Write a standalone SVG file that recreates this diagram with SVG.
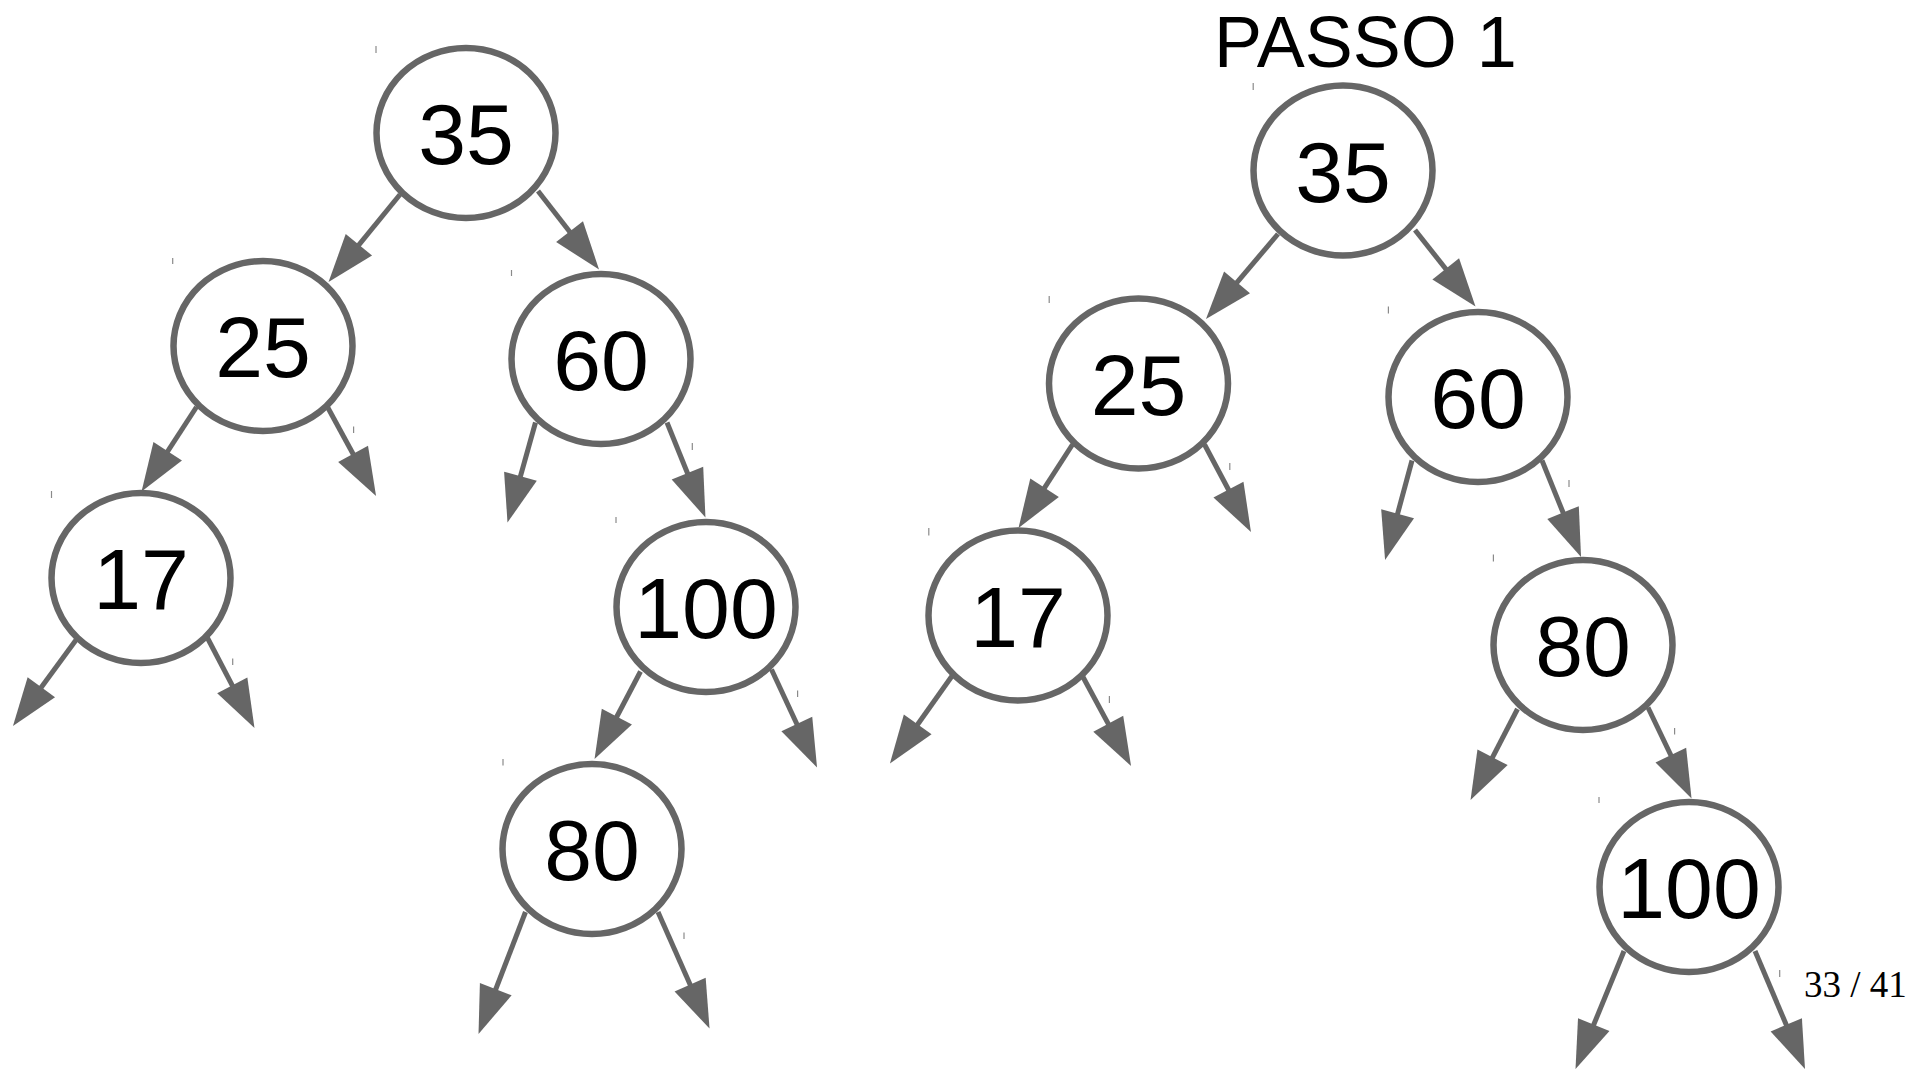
<svg xmlns="http://www.w3.org/2000/svg" width="1929" height="1069" viewBox="0 0 1929 1069">
<style>
.node ellipse{fill:#ffffff;stroke:#666666;stroke-width:6.5}
.node text{font-family:"Liberation Sans",Arial,sans-serif;font-size:86px;fill:#000000;text-anchor:middle}
.edge{stroke:#666666;stroke-width:5;fill:none;marker-end:url(#ah)}
.tick{stroke:#8a8a8a;stroke-width:1.2}
.title{font-family:"Liberation Sans",Arial,sans-serif;font-size:72px;fill:#000000;text-anchor:middle}
.page{font-family:"Liberation Serif","Times New Roman",serif;font-size:37px;fill:#000000}
</style>
<defs>
<marker id="ah" markerUnits="userSpaceOnUse" markerWidth="48" markerHeight="34" viewBox="0 0 48 34" refX="18" refY="17" orient="auto" overflow="visible">
<path d="M0,0 L48,17 L0,34 Z" fill="#666666"/>
</marker>
</defs>
<rect width="1929" height="1069" fill="#ffffff"/>
<text class="title" x="1365.5" y="67">PASSO 1</text>
<g id="L35" class="node"><ellipse cx="466" cy="133" rx="89.5" ry="85"/><text x="466" y="164">35</text></g>
<g id="L25" class="node"><ellipse cx="263" cy="346" rx="89.5" ry="85"/><text x="263" y="377">25</text></g>
<g id="L60" class="node"><ellipse cx="601" cy="359" rx="89.5" ry="85"/><text x="601" y="390">60</text></g>
<g id="L17" class="node"><ellipse cx="141" cy="578" rx="89.5" ry="85"/><text x="141" y="609">17</text></g>
<g id="L100" class="node"><ellipse cx="706" cy="607" rx="89.5" ry="85"/><text x="706" y="638">100</text></g>
<g id="L80" class="node"><ellipse cx="592" cy="849" rx="89.5" ry="85"/><text x="592" y="880">80</text></g>
<g id="R35" class="node"><ellipse cx="1343" cy="170.5" rx="89.5" ry="85"/><text x="1343" y="201.5">35</text></g>
<g id="R25" class="node"><ellipse cx="1138.5" cy="383.5" rx="89.5" ry="85"/><text x="1138.5" y="414.5">25</text></g>
<g id="R60" class="node"><ellipse cx="1478" cy="397" rx="89.5" ry="85"/><text x="1478" y="428">60</text></g>
<g id="R17" class="node"><ellipse cx="1018" cy="615.5" rx="89.5" ry="85"/><text x="1018" y="646.5">17</text></g>
<g id="R80" class="node"><ellipse cx="1583" cy="645" rx="89.5" ry="85"/><text x="1583" y="676">80</text></g>
<g id="R100" class="node"><ellipse cx="1689" cy="887" rx="89.5" ry="85"/><text x="1689" y="918">100</text></g>
<g id="connectors">
<path class="edge" d="M400,194.5 L347.5,258.8"/>
<path class="edge" d="M538,191 L580.6,245.8"/>
<path class="edge" d="M196.5,407 L157.9,466.4"/>
<path class="edge" d="M327.5,407 L361.7,469.7"/>
<path class="edge" d="M535.5,422.5 L515.6,493.6"/>
<path class="edge" d="M667,422.5 L694.2,489.7"/>
<path class="edge" d="M76,640 L30.7,701.8"/>
<path class="edge" d="M207.5,638 L240.6,701.4"/>
<path class="edge" d="M640.5,671.5 L608.5,732.5"/>
<path class="edge" d="M771.5,669.5 L804.4,740.3"/>
<path class="edge" d="M525.5,912 L489.3,1006"/>
<path class="edge" d="M658,912 L697.4,1001.1"/>
<path class="edge" d="M1278,234 L1225.4,296.1"/>
<path class="edge" d="M1415,230 L1456.9,283"/>
<path class="edge" d="M1072.5,444.5 L1034.8,502.8"/>
<path class="edge" d="M1204.5,444.5 L1236.9,505.5"/>
<path class="edge" d="M1412,460.5 L1392.9,531.1"/>
<path class="edge" d="M1542,460.5 L1569.8,529.2"/>
<path class="edge" d="M952,676 L907.3,739"/>
<path class="edge" d="M1083,677 L1116.8,739.6"/>
<path class="edge" d="M1517.5,709 L1484.3,773.3"/>
<path class="edge" d="M1648,707.5 L1678.6,771.4"/>
<path class="edge" d="M1624,951 L1586.9,1041.3"/>
<path class="edge" d="M1755,951 L1793.3,1041.4"/>
</g>
<g id="marks">
<line class="tick" x1="376" y1="46" x2="376" y2="53"/>
<line class="tick" x1="172.7" y1="258" x2="172.7" y2="264"/>
<line class="tick" x1="511.5" y1="270" x2="511.5" y2="276"/>
<line class="tick" x1="51.5" y1="491" x2="51.5" y2="498"/>
<line class="tick" x1="616" y1="517" x2="616" y2="523"/>
<line class="tick" x1="503" y1="759" x2="503" y2="765.5"/>
<line class="tick" x1="353.6" y1="426.5" x2="353.6" y2="433"/>
<line class="tick" x1="692.3" y1="443" x2="692.3" y2="450"/>
<line class="tick" x1="232.7" y1="658.5" x2="232.7" y2="665"/>
<line class="tick" x1="797.6" y1="690.5" x2="797.6" y2="697"/>
<line class="tick" x1="684" y1="932.5" x2="684" y2="939"/>
<line class="tick" x1="1253.2" y1="83" x2="1253.2" y2="90"/>
<line class="tick" x1="1049.2" y1="296" x2="1049.2" y2="303"/>
<line class="tick" x1="1388.4" y1="306.5" x2="1388.4" y2="313.5"/>
<line class="tick" x1="1229.8" y1="463" x2="1229.8" y2="470"/>
<line class="tick" x1="1569" y1="480" x2="1569" y2="487"/>
<line class="tick" x1="928.8" y1="528" x2="928.8" y2="535.5"/>
<line class="tick" x1="1493.4" y1="554.5" x2="1493.4" y2="561.5"/>
<line class="tick" x1="1109.4" y1="696" x2="1109.4" y2="703"/>
<line class="tick" x1="1674.6" y1="728" x2="1674.6" y2="734.5"/>
<line class="tick" x1="1599" y1="797" x2="1599" y2="803"/>
<line class="tick" x1="1779.7" y1="970" x2="1779.7" y2="977"/>
</g>
<text class="page" x="1804" y="997">33 / 41</text>
</svg>
